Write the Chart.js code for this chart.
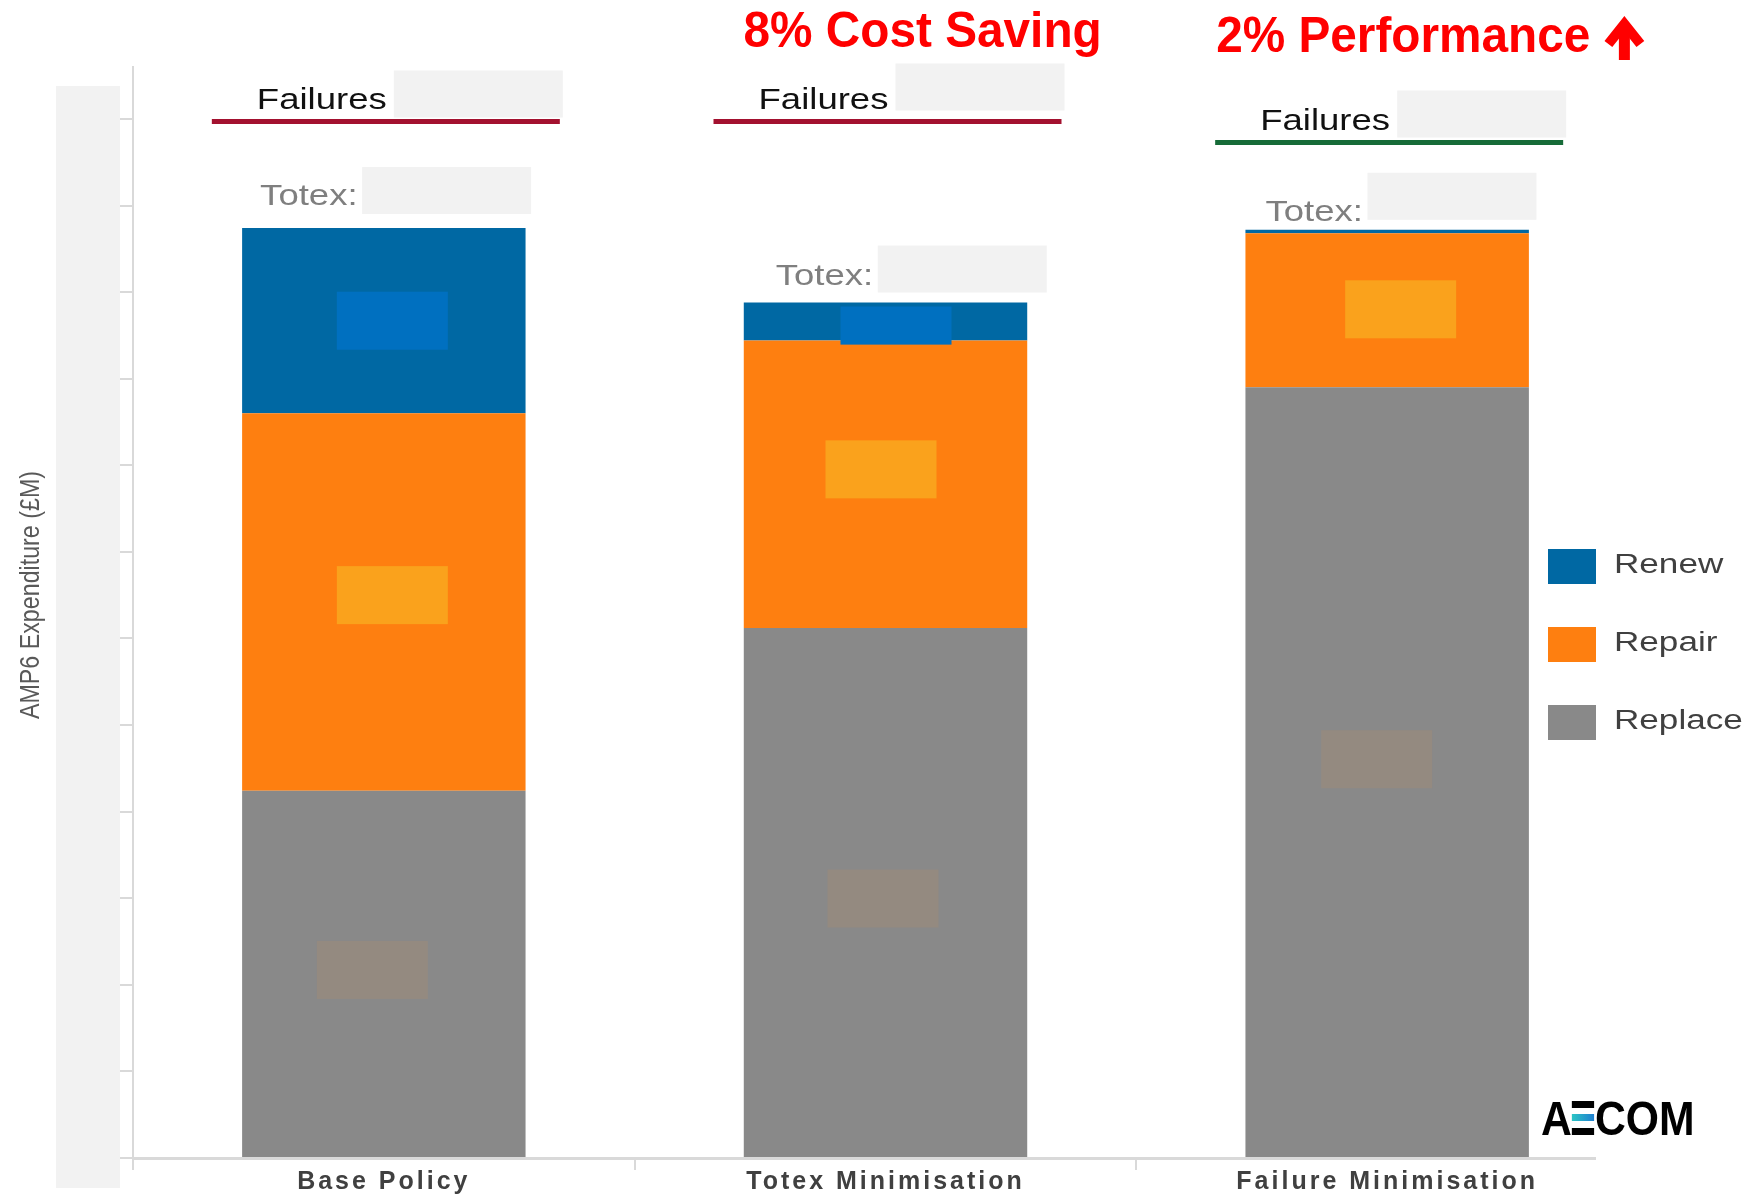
<!DOCTYPE html>
<html>
<head>
<meta charset="utf-8">
<title>AMP6 Expenditure by Policy</title>
<script src="https://cdn.jsdelivr.net/npm/chart.js@4.4.1/dist/chart.umd.min.js"></script>
<style>
html,body{margin:0;padding:0;background:#fff;}
canvas{display:block;}
</style>
</head>
<body>
<canvas id="ampChart" width="1760" height="1195"></canvas>
<script>
// ======================
// DATA (£M)
// ======================
const policies = ["Base Policy", "Totex Minimisation", "Failure Minimisation"];
const replaceVals = [21.2, 30.6, 44.5];
const repairVals  = [21.8, 16.6, 8.9];
const renewVals   = [10.7, 2.2, 0.2];
const yTicks = [0, 5, 10, 15, 20, 25, 30, 35, 40, 45, 50, 55, 60];
const headlines = ["", "8% Cost Saving", "2% Performance"];
const yTitle = "AMP6 Expenditure (£M)";

// ======================
// LOOK (colours, annotation offsets in px)
// ======================
const segColors = ["#898989", "#fe7f10", "#0068a3"];   // replace, repair, renew
const maskColors = ["#948a80", "#faa21c", "#0070c0"];  // covered value labels
const maskDx = [[-12, -3, -11], [8, -5, 13], [8, 10, 0]];
const maskDy = [[-4, 6, -13], [-7, -15, -1], [0, 4, 0]];
const failColors = ["#a3112f", "#a3112f", "#166b38"];
const failLineY = [121.5, 121.5, 142.5];
const failBoxDy = [-51, -58, -52];
const totexDx = [18, 32, 20];
const totexDy = [-23, -18, -9];
const totexBoxDy = [-38, -39, -48];
const titleDx = [0, -142, -171];
const titleY = [0, 46.5, 51.5];
const FONT = "'Liberation Sans', Arial, sans-serif";

// text squeezed / stretched sideways like the original slide
function sText(ctx, txt, x, y, sx, align){
  ctx.save();
  ctx.translate(x, y);
  ctx.scale(sx, 1);
  ctx.textAlign = align || "left";
  ctx.fillText(txt, 0, 0);
  ctx.restore();
}

const decor = {
  id: "decor",
  beforeDraw(chart){
    const ctx = chart.ctx;
    ctx.save();
    ctx.fillStyle = "#f2f2f2";          // blanked tick labels
    ctx.fillRect(56, 86, 64, 1102);
    ctx.restore();
    ctx.letterSpacing = "3px";          // wide x labels
  },
  beforeDatasetsDraw(chart){
    chart.ctx.letterSpacing = "0px";
  },
  afterDatasetsDraw(chart){
    const ctx = chart.ctx;
    ctx.save();
    chart.data.datasets.forEach((ds, i) => {
      chart.getDatasetMeta(i).data.forEach((bar, j) => {
        const h = bar.base - bar.y;
        if (h < 10) return;
        const bh = Math.min(58, h);
        const cy = (bar.y + bar.base) / 2 + maskDy[i][j];
        ctx.fillStyle = maskColors[i];
        ctx.fillRect(bar.x + maskDx[i][j] - 55, cy - bh / 2, 111, bh);
      });
    });
    ctx.restore();
  },
  afterDraw(chart){
    const ctx = chart.ctx;
    const tops = chart.getDatasetMeta(chart.data.datasets.length - 1).data;
    ctx.save();
    ctx.textBaseline = "alphabetic";

    // hide axis line under the legend
    ctx.fillStyle = "#fff";
    ctx.fillRect(1596, 1150, 60, 30);

    tops.forEach((bar, j) => {
      // Failures + underline
      const lx = bar.x - 172, ly = failLineY[j];
      ctx.fillStyle = failColors[j];
      ctx.fillRect(lx, ly - 2.5, 348, 5);
      ctx.fillStyle = "#111";
      ctx.font = "29px " + FONT;
      sText(ctx, "Failures", lx + 45, ly - 12.5, 1.26);
      ctx.fillStyle = "#f2f2f2";
      ctx.fillRect(lx + 182, ly + failBoxDy[j], 169, 47);

      // Totex label above bar
      const tx = bar.x - bar.width / 2 + totexDx[j], ty = bar.y + totexDy[j];
      ctx.fillStyle = "#7f7f7f";
      ctx.font = "29px " + FONT;
      sText(ctx, "Totex:", tx, ty, 1.26);
      ctx.fillStyle = "#f2f2f2";
      ctx.fillRect(tx + 102, ty + totexBoxDy[j], 169, 47);

      // red headline
      if (headlines[j]) {
        ctx.fillStyle = "#ff0000";
        ctx.font = "bold 50px " + FONT;
        const w = ctx.measureText(headlines[j]).width * 0.955;
        const x0 = bar.x + titleDx[j];
        sText(ctx, headlines[j], x0, titleY[j], 0.955);
        if (j === 2) {
          const ax = x0 + w + 34;
          ctx.fillRect(ax - 5.5, 24, 11, 36);
          ctx.strokeStyle = "#ff0000";
          ctx.lineWidth = 10;
          ctx.lineJoin = "miter";
          ctx.beginPath();
          ctx.moveTo(ax - 16, 44);
          ctx.lineTo(ax, 24);
          ctx.lineTo(ax + 16, 44);
          ctx.stroke();
        }
      }
    });

    // y title
    ctx.save();
    ctx.translate(31, 595);
    ctx.rotate(-Math.PI / 2);
    ctx.scale(0.83, 1);
    ctx.fillStyle = "#595959";
    ctx.font = "28px " + FONT;
    ctx.textAlign = "center";
    ctx.textBaseline = "middle";
    ctx.fillText(yTitle, 0, 0);
    ctx.restore();

    // legend, top series first
    const n = chart.data.datasets.length;
    ctx.font = "27px " + FONT;
    ctx.textBaseline = "middle";
    for (let k = 0; k < n; k++) {
      const ds = chart.data.datasets[n - 1 - k];
      const cy = 566 + k * 78;
      ctx.fillStyle = ds.backgroundColor;
      ctx.fillRect(1548, cy - 17, 48, 35);
      ctx.fillStyle = "#404040";
      sText(ctx, ds.label, 1614, cy, 1.3);
    }

    // AECOM logo
    ctx.save();
    ctx.translate(1541, 1135);
    ctx.scale(0.89, 1);
    ctx.textBaseline = "alphabetic";
    ctx.font = "bold 48px " + FONT;
    ctx.fillStyle = "#000";
    ctx.fillText("A", 0, 0);
    const wa = ctx.measureText("A").width;
    ctx.fillRect(wa, -34, 25, 7);
    ctx.fillRect(wa, -7, 25, 7);
    const g = ctx.createLinearGradient(wa, 0, wa + 25, 0);
    g.addColorStop(0, "#2cc5c4");
    g.addColorStop(1, "#1f7fd0");
    ctx.fillStyle = g;
    ctx.fillRect(wa, -21, 25, 7);
    ctx.fillStyle = "#000";
    ctx.fillText("COM", wa + 26, 0);
    ctx.restore();

    ctx.restore();
  }
};

// ======================
// STACKED BAR CHART
// ======================
new Chart(document.getElementById("ampChart"), {
  type: "bar",
  data: {
    labels: policies,
    datasets: [
      {label: "Replace", data: replaceVals, backgroundColor: segColors[0]},
      {label: "Repair",  data: repairVals,  backgroundColor: segColors[1]},
      {label: "Renew",   data: renewVals,   backgroundColor: segColors[2]}
    ]
  },
  options: {
    responsive: false,
    animation: false,
    layout: {padding: {top: 67, left: 120, right: 122, bottom: 0}},
    datasets: {bar: {categoryPercentage: 1, barPercentage: 0.565, borderWidth: 0}},
    plugins: {legend: {display: false}, tooltip: {enabled: false}},
    scales: {
      x: {
        stacked: true,
        grid: {offset: true, drawOnChartArea: false, tickLength: 12, color: "#d9d9d9", lineWidth: 2},
        border: {color: "#d9d9d9", width: 3},
        ticks: {padding: 0, color: "#404040", font: {family: FONT, size: 25, weight: "bold", lineHeight: 1}}
      },
      y: {
        stacked: true,
        min: 0,
        max: 63,
        grid: {drawOnChartArea: false, tickLength: 13, color: "#d9d9d9", lineWidth: 2},
        border: {color: "#d9d9d9", width: 2},
        ticks: {display: false},
        afterBuildTicks: scale => { scale.ticks = yTicks.map(v => ({value: v})); }
      }
    }
  },
  plugins: [decor]
});
</script>
</body>
</html>
